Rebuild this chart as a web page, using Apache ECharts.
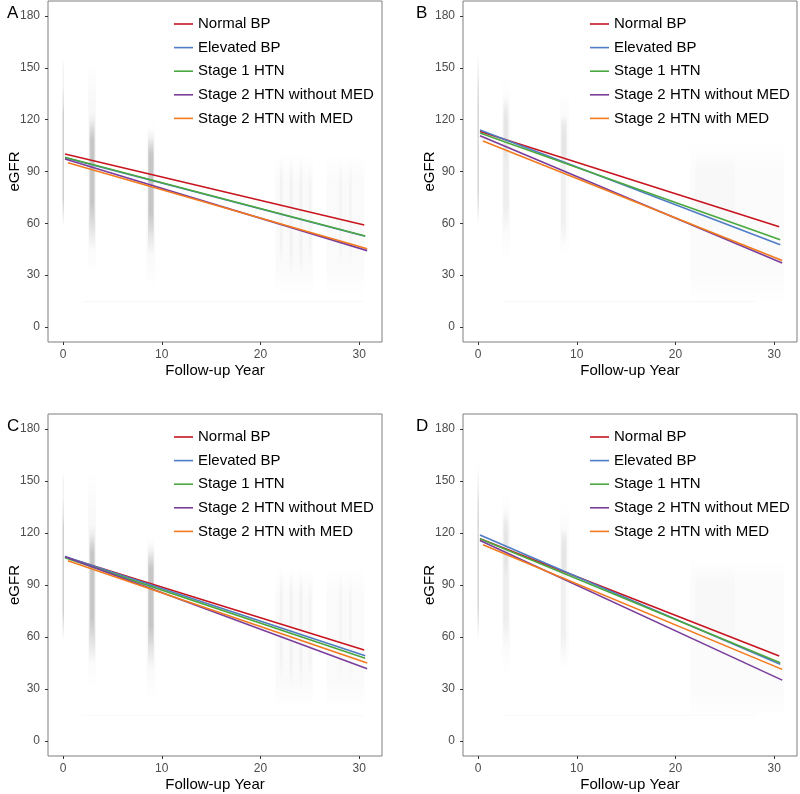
<!DOCTYPE html>
<html>
<head>
<meta charset="utf-8">
<script src="https://cdn.jsdelivr.net/npm/echarts@6/dist/echarts.min.js"></script>
<style>
  html, body { margin: 0; padding: 0; background: #fff; }
  #chart { width: 800px; height: 794px; }
</style>
</head>
<body>
<div id="chart"></div>
<script>
// groups and their line colours
const groups = ["Normal BP", "Elevated BP", "Stage 1 HTN", "Stage 2 HTN without MED", "Stage 2 HTN with MED"];
const groupColors = ["#c8141e", "#4f7cc4", "#4aa83e", "#7a3d9c", "#f27a1c"];

// fitted lines: x where each line starts/ends, y at start and end (per panel)
const lineStartX = [0.2, 0.2, 0.2, 0.2, 0.5];
const lineEndX = [30.5, 30.6, 30.6, 30.8, 30.8];
const startA = [100.1, 98.0, 98.2, 97.2, 95.1];
const endA = [59.0, 52.5, 52.7, 44.2, 45.3];
const startB = [113.2, 114.0, 112.3, 110.7, 107.6];
const endB = [58.0, 47.6, 50.5, 37.0, 38.5];
const startC = [106.1, 106.5, 105.8, 106.3, 104.0];
const endC = [52.5, 49.2, 47.7, 41.7, 45.0];
const startD = [116.7, 118.9, 116.7, 115.7, 113.2];
const endD = [49.0, 44.2, 45.1, 35.1, 41.3];

// observed eGFR clouds, read as bands: [x0, x1, y0, y1, density]
const cloudAC = [
  [-0.05, 0.1, 58, 140, 0.5], [-0.05, 0.1, 130, 155, 0.12],
  [2.55, 3.35, 30, 155, 0.07], [2.65, 3.25, 45, 125, 0.3], [2.75, 3.15, 60, 120, 0.38],
  [8.45, 9.35, 22, 120, 0.06], [8.6, 9.2, 42, 115, 0.3], [8.65, 9.15, 55, 110, 0.38],
  [21.5, 25.3, 18, 100, 0.05], [26.7, 30.5, 18, 100, 0.05],
  [21.95, 22.25, 35, 100, 0.08], [22.95, 23.25, 30, 100, 0.09], [23.95, 24.25, 30, 100, 0.09],
  [24.85, 25.15, 35, 95, 0.06], [27.95, 28.25, 35, 98, 0.06], [28.95, 29.25, 35, 96, 0.06],
  [2, 30.5, 14.5, 15.3, 0.07]
];
const cloudBD = [
  [-0.05, 0.08, 58, 160, 0.3], [-0.05, 0.08, 60, 145, 0.25],
  [2.45, 3.25, 38, 145, 0.06], [2.55, 3.1, 55, 135, 0.13], [2.6, 3.0, 95, 132, 0.1],
  [8.3, 9.2, 40, 138, 0.05], [8.4, 8.9, 45, 125, 0.11], [8.45, 9.0, 95, 122, 0.13],
  [21.5, 31, 12, 108, 0.045], [22, 26, 55, 102, 0.035],
  [2.5, 28, 14.5, 15.3, 0.07]
];

const yTicks = [0, 30, 60, 90, 120, 150, 180];
const xTicks = [0, 10, 20, 30];

const panels = [
  { label: "A", left: 48, top: 1, height: 341, start: startA, end: endA, cloud: cloudAC },
  { label: "B", left: 463, top: 1, height: 341, start: startB, end: endB, cloud: cloudBD },
  { label: "C", left: 48, top: 414, height: 342, start: startC, end: endC, cloud: cloudAC },
  { label: "D", left: 463, top: 414, height: 342, start: startD, end: endD, cloud: cloudBD }
];

const font = "Liberation Sans, Arial, sans-serif";
const chart = echarts.init(document.getElementById("chart"), null, { renderer: "canvas" });

const grid = [], xAxis = [], yAxis = [], series = [], legend = [], graphic = [];

function bandFill(alpha) {
  const c = "rgba(160,160,160,";
  return {
    type: "linear", x: 0, y: 0, x2: 0, y2: 1,
    colorStops: [
      { offset: 0, color: c + "0)" },
      { offset: 0.2, color: c + alpha + ")" },
      { offset: 0.8, color: c + alpha + ")" },
      { offset: 1, color: c + "0)" }
    ]
  };
}

panels.forEach((p, i) => {
  grid.push({
    left: p.left, top: p.top, width: 334, height: p.height,
    show: true, borderColor: "#7f7f7f", borderWidth: 1, backgroundColor: "#fff"
  });
  xAxis.push({
    gridIndex: i, type: "value", min: -1.52, max: 32.3,
    splitLine: { show: false },
    axisLine: { show: false, onZero: false },
    axisTick: { show: true, length: 3, lineStyle: { color: "#333" }, customValues: xTicks },
    axisLabel: { color: "#4d4d4d", fontSize: 12, fontFamily: font, margin: 7, customValues: xTicks },
    name: "Follow-up Year", nameLocation: "middle", nameGap: 21, nameMoveOverlap: false,
    nameTextStyle: { color: "#000", fontSize: 15, fontFamily: font }
  });
  yAxis.push({
    gridIndex: i, type: "value", min: -8.7, max: 188.7,
    splitLine: { show: false },
    axisLine: { show: false, onZero: false },
    axisTick: { show: true, length: 3, lineStyle: { color: "#333" }, customValues: yTicks },
    axisLabel: { color: "#4d4d4d", fontSize: 12, fontFamily: font, margin: 8, customValues: yTicks },
    name: "eGFR", nameLocation: "middle", nameGap: 26, nameMoveOverlap: false,
    nameTextStyle: { color: "#000", fontSize: 15, fontFamily: font }
  });

  // observed data cloud
  series.push({
    type: "custom", xAxisIndex: i, yAxisIndex: i, silent: true, z: 1,
    data: p.cloud,
    renderItem: function (params, api) {
      const a = api.coord([api.value(0), api.value(3)]);
      const b = api.coord([api.value(1), api.value(2)]);
      return {
        type: "rect",
        shape: { x: a[0], y: a[1], width: Math.max(b[0] - a[0], 1), height: b[1] - a[1] },
        style: { fill: bandFill(api.value(4)) }
      };
    }
  });

  groups.forEach((g, k) => {
    series.push({
      name: g, type: "line", xAxisIndex: i, yAxisIndex: i, z: 3 + k,
      showSymbol: false, symbol: "none", silent: true,
      color: groupColors[k],
      lineStyle: { width: 1.6, color: groupColors[k] },
      data: [[lineStartX[k], p.start[k]], [lineEndX[k], p.end[k]]]
    });
  });

  const legendLeft = i % 2 === 0 ? 174 : 590;
  legend.push({
    orient: "vertical", left: legendLeft, top: p.top + 15, padding: 0,
    data: groups, icon: "rect", itemWidth: 19, itemHeight: 1.6, itemGap: 7.6,
    selectedMode: false,
    textStyle: { color: "#000", fontSize: 15, fontFamily: font, lineHeight: 16 }
  });

  graphic.push({
    type: "text", left: i % 2 === 0 ? 7 : 416, top: p.top + 4,
    style: { text: p.label, fontSize: 17, fontFamily: font, fill: "#000" }
  });
});

chart.setOption({
  backgroundColor: "#fff",
  animation: false,
  grid, xAxis, yAxis, series, legend, graphic
});
</script>
</body>
</html>
